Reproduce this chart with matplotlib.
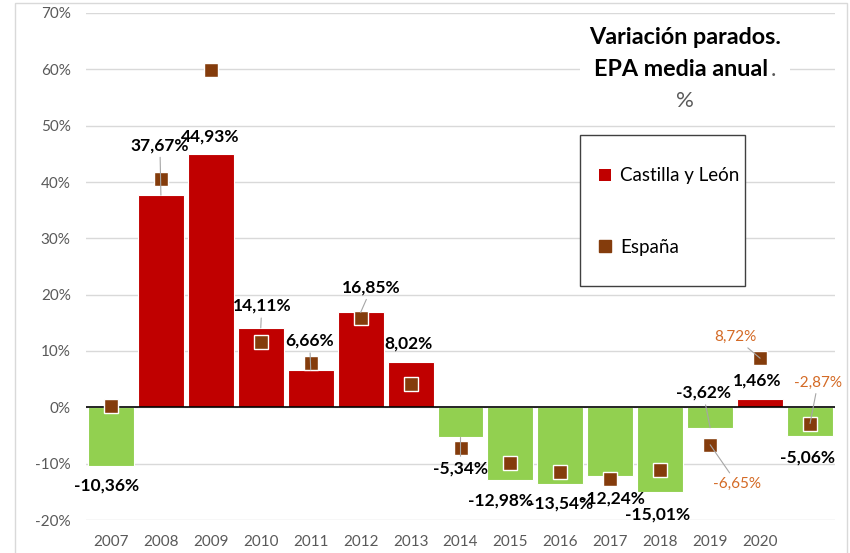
import matplotlib
matplotlib.use('Agg')
import matplotlib.pyplot as plt
import matplotlib.patches as mpatches
from matplotlib.lines import Line2D

plt.rcParams['font.family'] = ['Lato', 'DejaVu Sans']

# Data
years = ['2007', '2008', '2009', '2010', '2011', '2012', '2013', '2014',
         '2015', '2016', '2017', '2018', '2019', '2020', '']
castilla = [-10.36, 37.67, 44.93, 14.11, 6.66, 16.85, 8.02, -5.34,
            -12.98, -13.54, -12.24, -15.01, -3.62, 1.46, -5.06]
espana = [0.2, 40.5, 59.9, 11.6, 7.9, 15.8, 4.1, -7.3,
          -9.9, -11.5, -12.7, -11.2, -6.65, 8.72, -2.87]
espana_labelled = [12, 13, 14]

# Label placement (pixel offsets from bar end / marker) and leader flags
bar_offsets = [(-4, -20), (-1, 50), (-1, 18), (1, 22), (-1, 29), (11, 25), (-2, 19),
               (0, -31), (-10, -20), (0, -20), (2, -22), (-3, -23), (-7, 35),
               (-3, 19), (-3, -22)]
bar_leaders = [1, 3, 4, 5, 7, 12]
esp_offsets = {12: (27, -39), 13: (-25, 21), 14: (8, 41)}

RED = '#C00000'
GREEN = '#92D050'
BROWN = '#843C0C'
ORANGE = '#D46A25'
GRID = '#D9D9D9'
TICK = '#595959'
W, H = 850, 553

fig = plt.figure(figsize=(8.5, 5.53), dpi=100)
ax = fig.add_axes([86 / W, 1 - 520 / H, 749 / W, 507 / H])

x = list(range(len(years)))
colors = [RED if v >= 0 else GREEN for v in castilla]
ax.bar(x, castilla, width=0.92, color=colors, edgecolor='white', linewidth=0.8, zorder=2)
ax.plot(x, espana, linestyle='', marker='s', markersize=10, color=BROWN,
        markeredgecolor='white', markeredgewidth=1.0, zorder=3)

ax.axhline(0, color='black', linewidth=1.2, zorder=2.5)

leader = dict(arrowstyle='-', color='#A6A6A6', lw=0.8, shrinkA=1, shrinkB=0)
for i, v in enumerate(castilla):
    dx, dy = bar_offsets[i]
    lbl = f'{v:.2f}%'.replace('.', ',')
    ax.annotate(lbl, xy=(i, v), xytext=(dx, dy), textcoords='offset pixels',
                ha='center', va='center', fontsize=12.5, fontweight='bold',
                color='black', zorder=5,
                arrowprops=leader if i in bar_leaders else None)

for i in espana_labelled:
    dx, dy = esp_offsets[i]
    lbl = f'{espana[i]:.2f}%'.replace('.', ',')
    ax.annotate(lbl, xy=(i, espana[i]), xytext=(dx, dy), textcoords='offset pixels',
                ha='center', va='center', fontsize=11, color=ORANGE, zorder=5,
                arrowprops=leader)

ax.set_xlim(-0.5, len(years) - 0.5)
ax.set_ylim(-20, 70)
ax.set_yticks(range(-20, 71, 10))
ax.set_yticklabels([f'{t}%' for t in range(-20, 71, 10)])
ax.set_xticks(x)
ax.set_xticklabels(years)
ax.tick_params(axis='both', length=0, colors=TICK, labelsize=11)
ax.tick_params(axis='y', pad=11)
ax.tick_params(axis='x', pad=11)
ax.grid(True, axis='y', color=GRID, linewidth=1.0)
ax.set_axisbelow(True)
for s in ax.spines.values():
    s.set_visible(False)

# Title block (white patch hides the 60% gridline behind it)
fig.patches.append(mpatches.Rectangle((580 / W, 1 - 84 / H), 210 / W, 26 / H,
                                      transform=fig.transFigure, facecolor='white',
                                      edgecolor='none', zorder=5))
fig.text(685 / W, 1 - 38 / H, 'Variación parados.', ha='center', va='center',
         fontsize=16.8, fontweight='bold', zorder=6)
fig.text(681 / W, 1 - 76 / H, 'EPA media anual', ha='center', va='baseline',
         fontsize=16.8, fontweight='bold', zorder=6)
fig.text(771 / W, 1 - 76 / H, '.', ha='left', va='baseline', fontsize=16.8,
         color=TICK, zorder=6)
fig.text(685 / W, 1 - 101 / H, '%', ha='center', va='center', fontsize=16,
         color=TICK, zorder=6)

# Legend box
fig.patches.append(mpatches.Rectangle((580 / W, 1 - 286 / H), 165 / W, 151 / H,
                                      transform=fig.transFigure, facecolor='white',
                                      edgecolor='#404040', linewidth=1.0, zorder=6))
handles = [mpatches.Patch(facecolor=RED, edgecolor='none', label='Castilla y León'),
           Line2D([], [], linestyle='', marker='s', markersize=8, color=BROWN,
                  label='España')]
leg = fig.legend(handles=handles, loc='upper left', bbox_to_anchor=(590 / W, 1 - 158 / H),
                 frameon=False, fontsize=13.5, labelspacing=2.9, borderpad=0,
                 handlelength=0.6, handleheight=0.6, handletextpad=0.5)
leg.set_zorder(7)

# Outer chart border
fig.patches.append(mpatches.Rectangle((15 / W, -0.01), 832 / W, 1 - 3 / H + 0.01,
                                      transform=fig.transFigure, facecolor='none',
                                      edgecolor='#D9D9D9', linewidth=1.0))

fig.savefig('out.png', dpi=100, facecolor='white')
